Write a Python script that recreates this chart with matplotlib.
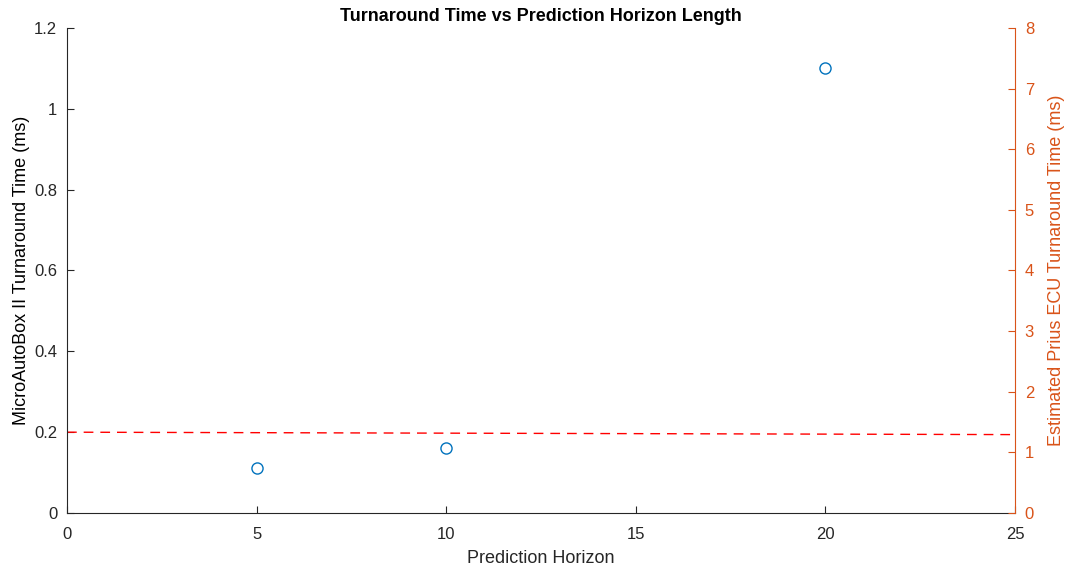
import matplotlib
matplotlib.use("Agg")
import matplotlib.pyplot as plt

plt.rcParams['font.family'] = ['Liberation Sans', 'DejaVu Sans']

horizon = [5, 10, 20]
turnaround_ms = [0.111, 0.161, 1.10]
limit_x = [0, 25]
limit_y = [0.2, 0.194]

orange = '#D95319'
dark = '#262626'

fig = plt.figure(figsize=(10.67, 5.72), dpi=100)
ax = fig.add_axes([0.0628, 0.1031, 0.8885, 0.848])
ax.plot(horizon, turnaround_ms, linestyle='none', marker='o', markersize=8,
        markerfacecolor='none', markeredgecolor='#0072BD', markeredgewidth=1.0)
ax.plot(limit_x, limit_y, linestyle=(0, (7, 5)), color='#FF0000', linewidth=1.0)
ax.set_xlim(0, 25)
ax.set_ylim(0, 1.2)
ax.set_xticks([0, 5, 10, 15, 20, 25])
ax.set_yticks([0, 0.2, 0.4, 0.6, 0.8, 1.0, 1.2])
ax.set_yticklabels(['0', '0.2', '0.4', '0.6', '0.8', '1', '1.2'])
ax.tick_params(direction='in', length=5, labelsize=12, colors=dark, top=False)
ax.tick_params(axis='x', pad=10)
ax.tick_params(axis='y', pad=7)
ax.spines['top'].set_visible(False)
ax.spines['right'].set_visible(False)
for s in ['left', 'bottom']:
    ax.spines[s].set_color(dark)
ax.set_xlabel('Prediction Horizon', fontsize=13, color=dark, labelpad=6)
ax.set_ylabel('MicroAutoBox II Turnaround Time (ms)', fontsize=13, color='black', labelpad=3)
ax.set_title('Turnaround Time vs Prediction Horizon Length', fontsize=13,
             fontweight='bold', color='black', pad=5)

ax2 = ax.twinx()
ax2.set_ylim(0, 8)
ax2.set_yticks(range(0, 9))
ax2.tick_params(direction='in', length=5, labelsize=12, colors=orange, pad=7)
for s in ['top', 'left', 'bottom']:
    ax2.spines[s].set_visible(False)
ax2.spines['right'].set_color(orange)
ax2.set_ylabel('Estimated Prius ECU Turnaround Time (ms)', fontsize=13, color=orange, labelpad=10)

fig.savefig('out.png', dpi=100)
